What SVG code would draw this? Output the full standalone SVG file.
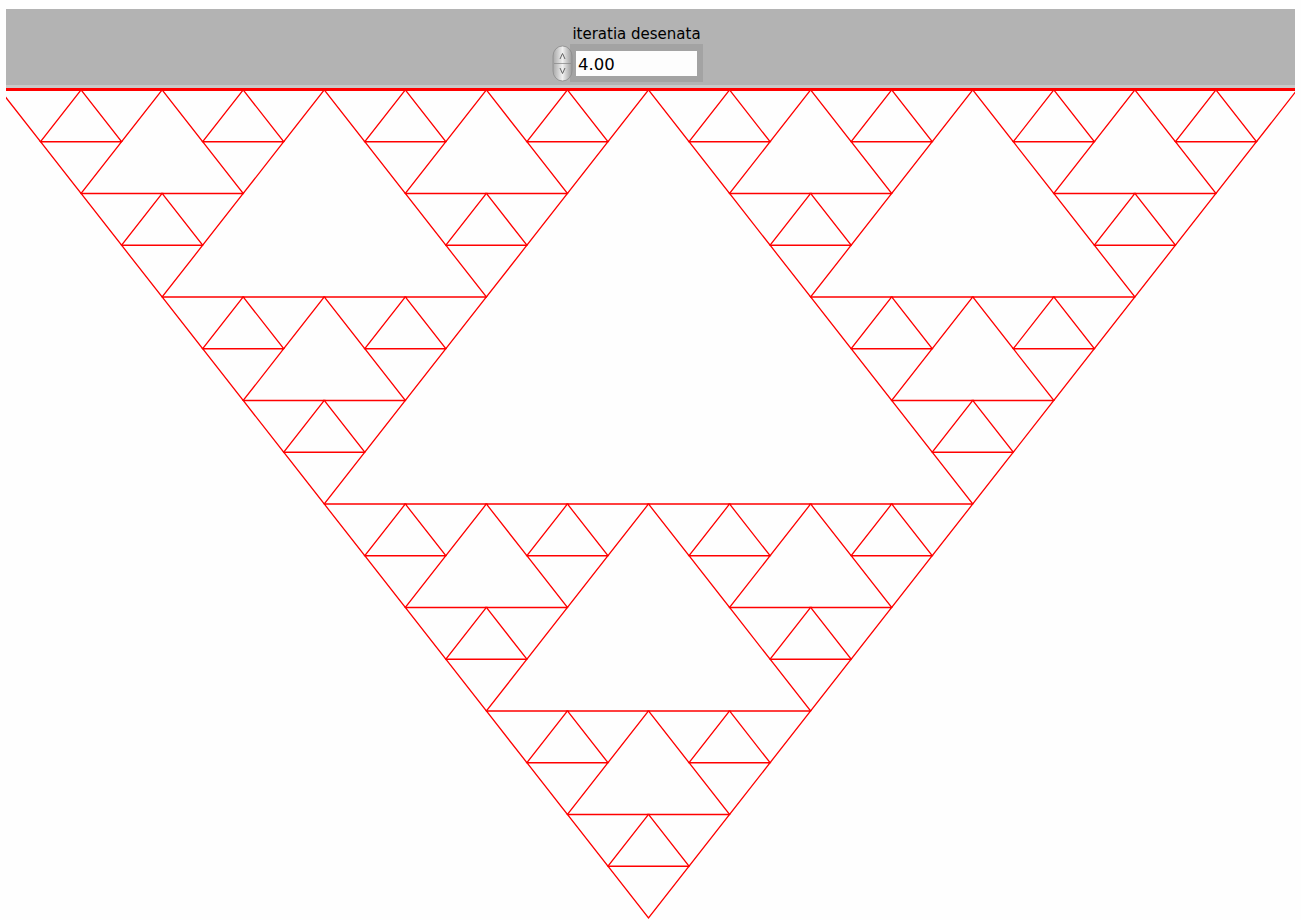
<svg xmlns="http://www.w3.org/2000/svg" xmlns:xlink="http://www.w3.org/1999/xlink" width="1301" height="920" viewBox="0 0 1301 920">
  <style>
    .tri { fill: none; stroke: #ff0000; stroke-width: 1.3; vector-effect: non-scaling-stroke; }
    .lbl { font-family: "DejaVu Sans", "Liberation Sans", sans-serif; font-size: 15px; fill: #000; }
    .num { font-family: "DejaVu Sans", "Liberation Sans", sans-serif; font-size: 16.5px; fill: #000; }
  </style>
  <defs>
    <linearGradient id="spin" x1="0" y1="0" x2="1" y2="0">
      <stop offset="0" stop-color="#a8a8a8"/>
      <stop offset="0.5" stop-color="#f0f0f0"/>
      <stop offset="1" stop-color="#9a9a9a"/>
    </linearGradient>
    <clipPath id="plot"><rect x="6" y="86" width="1289" height="834"/></clipPath>
    <polygon id="t0" class="tri" points="0,0 1,0 0.5,1"/>
    <g id="t1"><use xlink:href="#t0" transform="scale(0.5)"/><use xlink:href="#t0" transform="translate(0.5,0) scale(0.5)"/><use xlink:href="#t0" transform="translate(0.25,0.5) scale(0.5)"/></g>
    <g id="t2"><use xlink:href="#t1" transform="scale(0.5)"/><use xlink:href="#t1" transform="translate(0.5,0) scale(0.5)"/><use xlink:href="#t1" transform="translate(0.25,0.5) scale(0.5)"/></g>
    <g id="t3"><use xlink:href="#t2" transform="scale(0.5)"/><use xlink:href="#t2" transform="translate(0.5,0) scale(0.5)"/><use xlink:href="#t2" transform="translate(0.25,0.5) scale(0.5)"/></g>
    <g id="t4"><use xlink:href="#t3" transform="scale(0.5)"/><use xlink:href="#t3" transform="translate(0.5,0) scale(0.5)"/><use xlink:href="#t3" transform="translate(0.25,0.5) scale(0.5)"/></g>
  </defs>
  <rect x="0" y="0" width="1301" height="920" fill="#fefefe"/>
  <g id="header">
    <rect x="6" y="9" width="1289" height="76" fill="#b3b3b3"/>
    <rect x="6" y="85" width="1289" height="3" fill="#c9c9c9"/>
    <text class="lbl" x="636.5" y="39" text-anchor="middle">iteratia desenata</text>
  </g>
  <g id="control">
    <rect x="570" y="44" width="133" height="38" fill="#a3a3a3"/>
    <rect x="576" y="51" width="121" height="25" fill="#fdfdfd"/>
    <rect x="553" y="46" width="19" height="35" rx="9.5" ry="10" fill="url(#spin)" stroke="#8c8c8c" stroke-width="0.8"/>
    <line x1="554" y1="63.5" x2="571" y2="63.5" stroke="#8c8c8c" stroke-width="0.8"/>
    <path d="M560 59 L562.5 53.5 L565 59" fill="none" stroke="#555" stroke-width="0.9"/>
    <path d="M560 68 L562.5 73.5 L565 68" fill="none" stroke="#555" stroke-width="0.9"/>
    <text class="num" x="578" y="70">4.00</text>
  </g>
  <g id="fractal" clip-path="url(#plot)">
    <rect x="6" y="88" width="1289" height="3" fill="#ff0000"/>
    <use xlink:href="#t4" transform="translate(0,90) scale(1297,828)"/>
  </g>
</svg>
